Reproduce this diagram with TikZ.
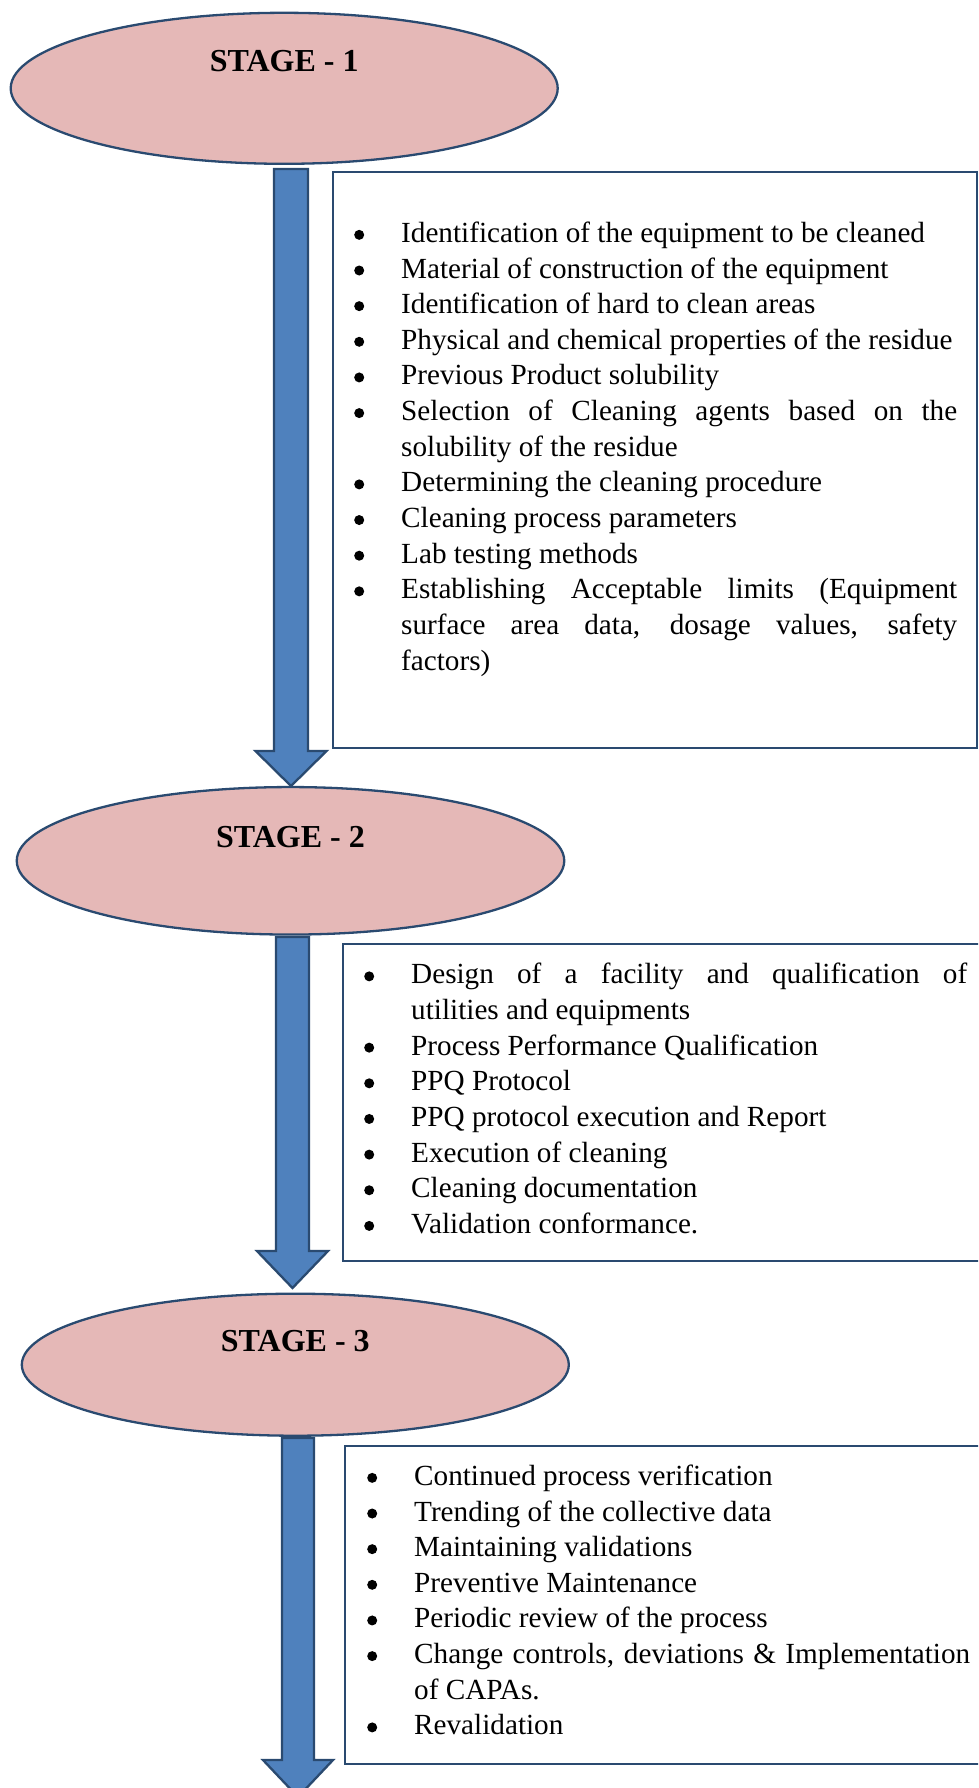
\documentclass[tikz,border=0pt]{standalone}
\usepackage{fontspec}
\setmainfont{Liberation Serif}
\usetikzlibrary{shapes.geometric}
\definecolor{stagefill}{HTML}{E5B8B7}
\definecolor{navy}{HTML}{2A4A70}
\definecolor{arrowblue}{HTML}{4F81BD}
\newcommand\bulletmark{\tikz[baseline=0pt,x=1pt,y=1pt]\fill[black] (0,7.5) circle[x radius=5pt,y radius=5pt];}
\newcommand\itm[1]{\par\hangindent=42pt\hangafter=1\noindent\makebox[42pt][l]{\makebox[0pt]{\bulletmark}}#1}
\newcommand\firststrut{\vrule height 25pt depth 0pt width 0pt\relax}
\newcommand\blkarrow[6]{% x, top, headtop, tip, shaft half, head half
  \draw[blk] (#1-#5,#2) -- (#1+#5,#2) -- (#1+#5,#3) -- (#1+#6,#3) -- (#1,#4)
    -- (#1-#6,#3) -- (#1-#5,#3) -- cycle;}
\tikzset{
  stage/.style={ellipse, draw=navy, line width=2.3pt, fill=stagefill, inner sep=0pt},
  stagetext/.style={anchor=base, font=\bfseries\fontsize{32}{38}\selectfont, inner sep=0pt},
  infobox/.style={rectangle, draw=navy, line width=2.2pt, fill=white, inner sep=0pt, anchor=north west},
  infotext/.style={anchor=north west, inner sep=0pt, text width=598pt, align=justify,
    font=\fontsize{29.2}{35.65}\selectfont},
  blk/.style={draw=navy, line width=2.3pt, fill=arrowblue, line join=miter},
}
\begin{document}
\hyphenpenalty=10000
\exhyphenpenalty=10000
\tolerance=10000
\begin{tikzpicture}[x=1pt,y=-1pt]
\useasboundingbox (0,0) rectangle (978,1788);
\clip (0,0) rectangle (978,1788);
% block arrows
\blkarrow{291}{169}{751}{786}{17}{35.5}
\blkarrow{292.5}{937}{1251}{1288}{16.5}{35.5}
\blkarrow{298}{1438}{1760}{1797}{16}{35}
% stage ellipses
\node[stage, minimum width=547pt, minimum height=151pt] (e1) at (284.2,88.3) {};
\node[stagetext] (t1) at (284.2,71.7) {STAGE - 1};
\node[stage, minimum width=547.5pt, minimum height=147.5pt] (e2) at (290.5,860.8) {};
\node[stagetext] (t2) at (290.5,847.3) {STAGE - 2};
\node[stage, minimum width=547pt, minimum height=142pt] (e3) at (295.3,1364.7) {};
\node[stagetext] (t3) at (295.3,1351.7) {STAGE - 3};
% boxes
\node[infobox, minimum width=644.2pt, minimum height=576pt] (b1) at (331.8,170.7) {};
\node[infobox, minimum width=680pt, minimum height=317pt] (b2) at (341.7,943) {};
\node[infobox, minimum width=680pt, minimum height=317.7pt] (b3) at (344,1445) {};
% texts
\node[infotext] (l1) at (359,206.5) {%
\itm{\firststrut Identification of the equipment to be cleaned}
\itm{Material of construction of the equipment}
\itm{Identification of hard to clean areas}
\itm{Physical and chemical properties of the residue}
\itm{Previous Product solubility}
\itm{Selection of Cleaning agents based on the\linebreak solubility of the residue}
\itm{Determining the cleaning procedure}
\itm{Cleaning process parameters}
\itm{Lab testing methods}
\itm{Establishing Acceptable limits (Equipment\linebreak surface area data, dosage values, safety\linebreak factors)}\par};
\node[infotext] (l2) at (369,948) {%
\itm{\firststrut Design of a facility and qualification of\linebreak utilities and equipments}
\itm{Process Performance Qualification}
\itm{PPQ Protocol}
\itm{PPQ protocol execution and Report}
\itm{Execution of cleaning}
\itm{Cleaning documentation}
\itm{Validation conformance.}\par};
\node[infotext] (l3) at (372,1449.5) {%
\itm{\firststrut Continued process verification}
\itm{Trending of the collective data}
\itm{Maintaining validations}
\itm{Preventive Maintenance}
\itm{Periodic review of the process}
\itm{Change controls, deviations \& Implementation\linebreak of CAPAs.}
\itm{Revalidation}\par};
\end{tikzpicture}
\end{document}
